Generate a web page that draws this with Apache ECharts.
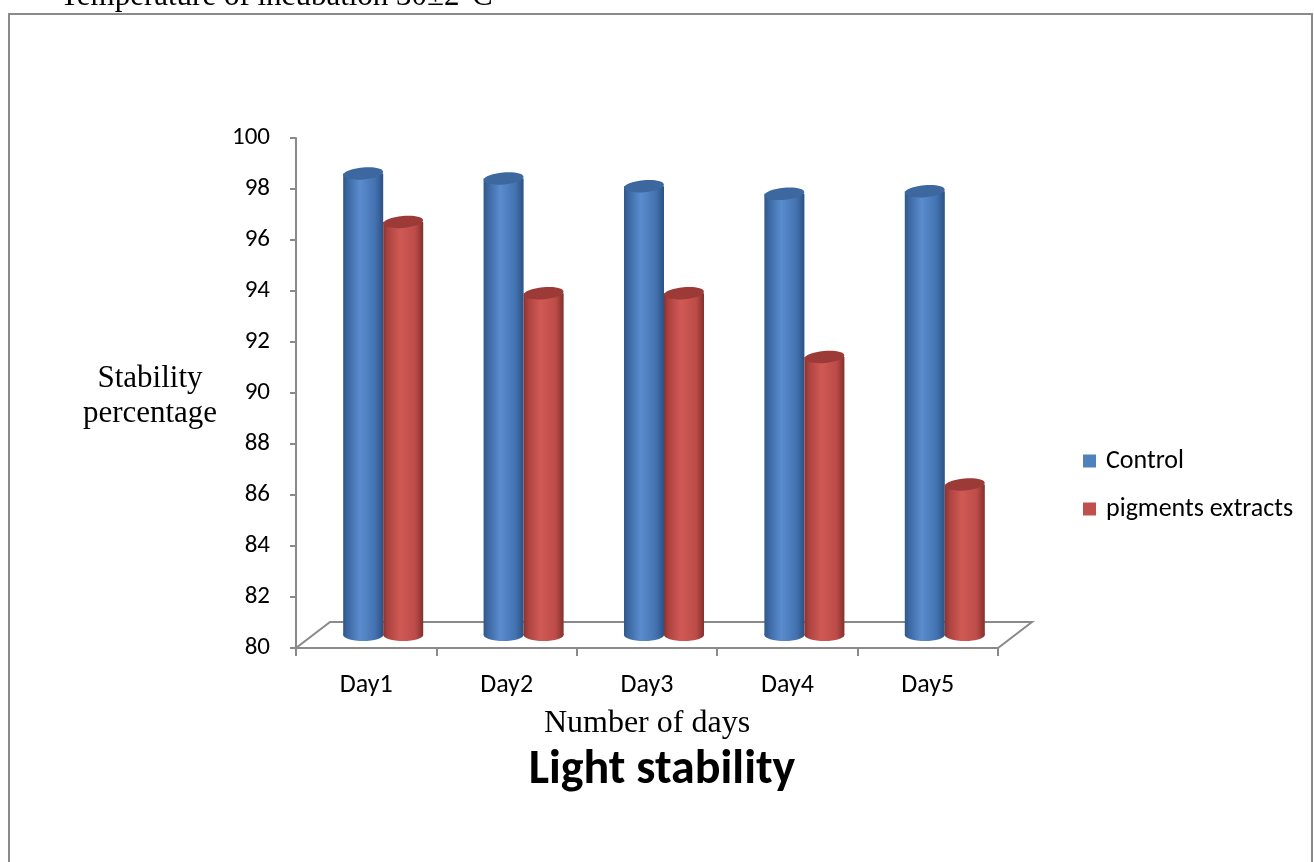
<!DOCTYPE html>
<html>
<head>
<meta charset="utf-8">
<script src="https://cdn.jsdelivr.net/npm/echarts@6/dist/echarts.min.js"></script>
<style>
  html, body { margin: 0; padding: 0; background: #ffffff; }
  #chart { width: 1314px; height: 862px; }
</style>
</head>
<body>
<div id="chart"></div>
<script>
// ---- data ----
const categories = ['Day1', 'Day2', 'Day3', 'Day4', 'Day5'];
const controlValues = [98.1, 97.9, 97.6, 97.3, 97.4];
const pigmentValues = [96.2, 93.4, 93.4, 90.9, 85.9];
const seriesNames = ['Control', 'pigments extracts'];
const yMin = 80;
const yMax = 100;
const yStep = 2;

// ---- styling ----
const SANS = 'Carlito, Lato, sans-serif';
const SERIF = '"Liberation Serif", "Times New Roman", serif';
const AXIS_GREY = '#8a8a8a';
const DEPTH_X = 34;   // full depth of the 3D floor, px
const DEPTH_Y = -26;
const BAR_FRACTION = 0.285; // width of one cylinder as fraction of a category band

const palettes = [
  { legend: '#4f81bd', top: '#3d679f',
    body: [[0, '#2f578b'], [0.12, '#3d69a3'], [0.42, '#5a8cce'], [0.8, '#4372b0'], [1, '#2c5183']] },
  { legend: '#c0504d', top: '#9c3a37',
    body: [[0, '#8a3330'], [0.12, '#ad4340'], [0.42, '#d05955'], [0.8, '#bd4c48'], [1, '#83302d']] }
];

function cylinderRenderer(which) {
  const pal = palettes[which];
  return function (params, api) {
    const idx = api.value(0);
    const val = api.value(1);
    const base = api.coord([idx, yMin]);
    const top = api.coord([idx, val]);
    const band = api.size([1, 0])[0];
    const w = band * BAR_FRACTION;
    const cx = base[0] + (which === 0 ? -w / 2 : w / 2) + DEPTH_X / 2;
    const yTop = top[1] + DEPTH_Y / 2;
    const yBot = base[1] + DEPTH_Y / 2;
    const rx = w / 2, ry = 6;
    const fill = new echarts.graphic.LinearGradient(0, 0, 1, 0,
      pal.body.map(s => ({ offset: s[0], color: s[1] })));
    return {
      type: 'group',
      children: [
        { type: 'ellipse', shape: { cx: cx, cy: yBot, rx: rx, ry: ry }, style: { fill: fill } },
        { type: 'rect', shape: { x: cx - rx, y: yTop, width: w, height: yBot - yTop }, style: { fill: fill } },
        { type: 'ellipse', shape: { cx: cx, cy: yTop, rx: rx, ry: ry },
          rotation: 0.09, originX: cx, originY: yTop,
          style: { fill: pal.top } }
      ]
    };
  };
}

function floorRenderer(params, api) {
  const cs = params.coordSys;
  const x0 = cs.x, x1 = cs.x + cs.width, y0 = cs.y + cs.height;
  return {
    type: 'polygon',
    shape: { points: [[x0, y0], [x1, y0], [x1 + DEPTH_X, y0 + DEPTH_Y], [x0 + DEPTH_X, y0 + DEPTH_Y]] },
    style: { fill: '#ffffff', stroke: AXIS_GREY, lineWidth: 2 },
    z2: 0
  };
}

const chart = echarts.init(document.getElementById('chart'), null, { renderer: 'canvas' });

chart.setOption({
  animation: false,
  backgroundColor: '#ffffff',
  grid: { left: 296, top: 138, width: 702, height: 510, containLabel: false },
  xAxis: {
    type: 'category',
    data: categories,
    boundaryGap: true,
    axisLine: { lineStyle: { color: AXIS_GREY, width: 2 } },
    axisTick: { show: true, length: 8, lineStyle: { color: AXIS_GREY, width: 2 } },
    axisLabel: { color: '#000', fontFamily: SANS, fontSize: 26, margin: 24 },
    name: 'Number of days',
    nameLocation: 'middle',
    nameGap: 60,
    nameTextStyle: { color: '#000', fontFamily: SERIF, fontSize: 32 }
  },
  yAxis: {
    type: 'value',
    min: yMin, max: yMax, interval: yStep,
    axisLine: { show: true, lineStyle: { color: AXIS_GREY, width: 2 } },
    axisTick: { show: true, length: 6, lineStyle: { color: AXIS_GREY, width: 2 } },
    splitLine: { show: false },
    axisLabel: { color: '#000', fontFamily: SANS, fontSize: 25, margin: 26 }
  },
  legend: {
    orient: 'vertical',
    left: 1083,
    top: 448,
    padding: 0,
    itemWidth: 13,
    itemHeight: 13,
    itemGap: 22,
    icon: 'rect',
    data: seriesNames,
    textStyle: { color: '#000', fontFamily: SANS, fontSize: 26, lineHeight: 26, padding: [0, 0, 0, 5] }
  },
  series: [
    {
      type: 'custom', name: 'floor', silent: true, z: 1,
      renderItem: floorRenderer,
      data: [[0, yMin]]
    },
    {
      type: 'custom', name: seriesNames[0], z: 3,
      itemStyle: { color: palettes[0].legend },
      renderItem: cylinderRenderer(0),
      encode: { x: 0, y: 1 },
      data: controlValues.map((v, i) => [i, v])
    },
    {
      type: 'custom', name: seriesNames[1], z: 3,
      itemStyle: { color: palettes[1].legend },
      renderItem: cylinderRenderer(1),
      encode: { x: 0, y: 1 },
      data: pigmentValues.map((v, i) => [i, v])
    }
  ],
  graphic: [
    { type: 'rect', z: -10, silent: true,
      shape: { x: 9, y: 14, width: 1303, height: 870 },
      style: { fill: 'none', stroke: AXIS_GREY, lineWidth: 2 } },
    { type: 'text', silent: true, x: 60, y: -3,
      style: { text: 'Temperature of incubation 30±2°C', font: '31px ' + SERIF, fill: '#000',
               textAlign: 'left', textVerticalAlign: 'middle' } },
    { type: 'text', silent: true, x: 150, y: 396,
      style: { text: 'Stability\npercentage', font: '31px ' + SERIF, fill: '#000', lineHeight: 35,
               textAlign: 'center', textVerticalAlign: 'middle' } },
    { type: 'text', silent: true, x: 662, y: 771,
      style: { text: 'Light stability', font: 'bold 48px ' + SANS, fill: '#000',
               textAlign: 'center', textVerticalAlign: 'middle' } }
  ]
});
</script>
</body>
</html>
